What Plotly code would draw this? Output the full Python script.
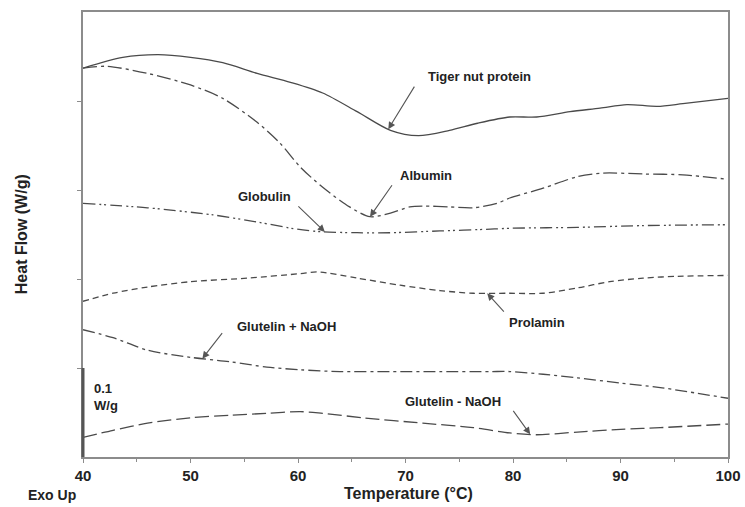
import numpy as np
import plotly.graph_objects as go

# ---- data (heat flow in W/g, curves offset as in the original figure) ----
tiger_T = [40, 43.7, 47, 50, 53, 56.2, 59.3, 62.3, 65.5, 68.6, 71.2, 74.1, 76.7, 79.7, 82.2, 85.3, 88.1, 90.6, 93.4, 95.8, 100]
tiger_Q = [0.437, 0.449, 0.452, 0.449, 0.443, 0.431, 0.421, 0.409, 0.388, 0.367, 0.361, 0.367, 0.375, 0.382, 0.382, 0.388, 0.392, 0.396, 0.394, 0.397, 0.403]

albumin_T = [40, 42.2, 46, 50, 53, 56.2, 58.3, 60.2, 62.3, 64.8, 66.7, 68.6, 70.4, 71.6, 74.1, 76.3, 78.5, 79.7, 82.8, 86, 88.4, 92.1, 95.8, 100]
albumin_Q = [0.437, 0.439, 0.431, 0.418, 0.403, 0.376, 0.353, 0.326, 0.303, 0.281, 0.270, 0.274, 0.281, 0.282, 0.281, 0.280, 0.285, 0.291, 0.302, 0.315, 0.319, 0.318, 0.317, 0.312]

globulin_T = [40, 46, 52.1, 56.2, 59.9, 62.3, 65.5, 68.6, 73.2, 77.9, 79.7, 86, 92.1, 100]
globulin_Q = [0.285, 0.280, 0.272, 0.264, 0.256, 0.253, 0.252, 0.252, 0.254, 0.256, 0.257, 0.258, 0.260, 0.261]

prolamin_T = [40, 42.8, 46, 50, 55.3, 60.2, 61.8, 65.5, 69.5, 73.2, 76.3, 79.7, 82.8, 86, 89, 92.1, 95.3, 100]
prolamin_Q = [0.175, 0.184, 0.191, 0.197, 0.201, 0.206, 0.208, 0.201, 0.193, 0.187, 0.184, 0.184, 0.184, 0.190, 0.197, 0.201, 0.203, 0.204]

glut_plus_T = [40, 42.8, 46, 50, 53.7, 57.1, 60.2, 63.9, 68.6, 73.2, 77.9, 79.7, 82.8, 86, 90, 93.7, 100]
glut_plus_Q = [0.143, 0.134, 0.120, 0.112, 0.107, 0.101, 0.098, 0.096, 0.096, 0.096, 0.096, 0.096, 0.093, 0.089, 0.083, 0.078, 0.066]

glut_minus_T = [40, 42.8, 46, 50, 53.7, 57.1, 60.2, 62.3, 66.1, 71.6, 76.3, 79.7, 82.2, 86, 90, 93.7, 100]
glut_minus_Q = [0.022, 0.030, 0.038, 0.044, 0.047, 0.049, 0.051, 0.049, 0.044, 0.038, 0.033, 0.027, 0.025, 0.028, 0.031, 0.033, 0.037]

x_ticks = [40, 50, 60, 70, 80, 90, 100]

LINE = "#4a4a4a"
FRAME = "#8c8c8c"
FONT = "Liberation Sans, Arial, sans-serif"

series = [
    ("Tiger nut protein", tiger_T, tiger_Q, "solid"),
    ("Albumin", albumin_T, albumin_Q, "14px,4px,3px,4px"),
    ("Globulin", globulin_T, globulin_Q, "12px,4px,2px,3px,2px,4px"),
    ("Prolamin", prolamin_T, prolamin_Q, "6px,4px"),
    ("Glutelin + NaOH", glut_plus_T, glut_plus_Q, "12px,4px,3px,4px"),
    ("Glutelin - NaOH", glut_minus_T, glut_minus_Q, "14px,5px"),
]

fig = go.Figure()
for name, t, q, dash in series:
    fig.add_trace(go.Scatter(x=t, y=q, mode="lines", name=name,
                             line=dict(color=LINE, width=1.3, dash=dash, shape="spline", smoothing=0.8),
                             hoverinfo="skip"))

# label annotations: (series index, T at arrow head, text T, text Q, arrow tail offset px)
labels = [
    (0, 68.4, 76.9, 0.427, 27, -44),
    (1, 66.7, 71.9, 0.316, 23, -33),
    (2, 62.5, 56.9, 0.293, -28, -27),
    (3, 77.6, 82.2, 0.151, 18, 20),
    (4, 51.1, 58.9, 0.147, 21, -27),
    (5, 81.6, 74.4, 0.062, -18, -25),
]
for idx, th, tx, qy, axp, ayp in labels:
    name, t, q, _ = series[idx]
    qh = float(np.interp(th, t, q))
    fig.add_annotation(x=th, y=qh, xref="x", yref="y", text="", showarrow=True,
                       ax=axp, ay=ayp, arrowhead=2, arrowsize=1.3, arrowwidth=1.1,
                       arrowcolor="#555555", standoff=0)
    fig.add_annotation(x=tx, y=qy, xref="x", yref="y", text=name, showarrow=False,
                       xanchor="center", yanchor="middle",
                       font=dict(family=FONT, size=13, color="#222222", weight="bold"))

# scale bar 0.1 W/g on left axis
fig.add_shape(type="line", xref="paper", yref="y", x0=0, x1=0, y0=0, y1=0.1,
              line=dict(color="#555555", width=3))
fig.add_annotation(xref="paper", yref="y", x=0.014, y=0.067, text="0.1<br>W/g",
                   showarrow=False, xanchor="left", yanchor="middle", align="left",
                   font=dict(family=FONT, size=13, color="#222222", weight="bold"))

fig.add_annotation(xref="paper", yref="paper", x=-0.048, y=-0.085, text="Exo Up",
                   showarrow=False, xanchor="center", yanchor="middle",
                   font=dict(family=FONT, size=14, color="#222222", weight="bold"))
fig.add_annotation(xref="paper", yref="paper", x=0.504, y=-0.081, text="Temperature (°C)",
                   showarrow=False, xanchor="center", yanchor="middle",
                   font=dict(family=FONT, size=16, color="#222222", weight="bold"))
fig.add_annotation(xref="paper", yref="paper", x=-0.095, y=0.5, text="Heat Flow (W/g)",
                   textangle=-90, showarrow=False, xanchor="center", yanchor="middle",
                   font=dict(family=FONT, size=16, color="#222222", weight="bold"))

fig.update_layout(
    width=745, height=507,
    margin=dict(l=83, r=17, t=12, b=50, autoexpand=False),
    paper_bgcolor="white", plot_bgcolor="white",
    showlegend=False,
    xaxis=dict(range=[40, 100], tickvals=x_ticks, ticks="outside", ticklen=4,
               tickcolor=FRAME, showgrid=False, zeroline=False, automargin=False,
               showline=True, linecolor=FRAME, linewidth=2, mirror=True,
               minor=dict(dtick=5, ticks="outside", ticklen=3, tickcolor=FRAME),
               tickfont=dict(family=FONT, size=15, color="#222222", weight="bold")),
    yaxis=dict(range=[0, 0.5], tickvals=[0.1, 0.2, 0.3, 0.4], ticks="outside", ticklen=4,
               tickcolor=FRAME, showticklabels=False, showgrid=False, zeroline=False,
               automargin=False,
               showline=True, linecolor=FRAME, linewidth=2, mirror=True),
)

fig.write_html("out.html")
